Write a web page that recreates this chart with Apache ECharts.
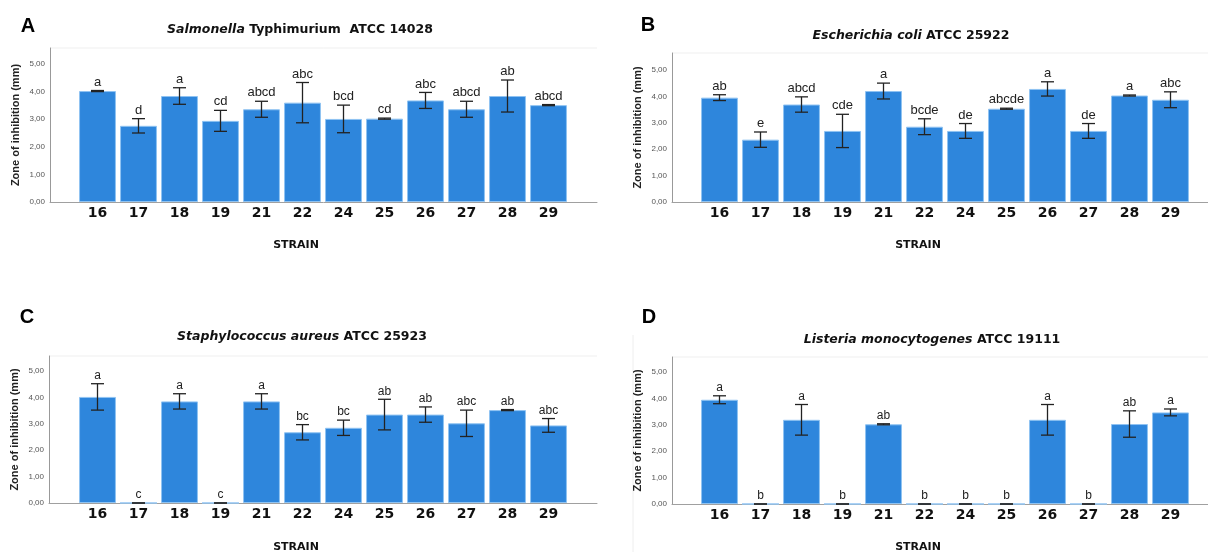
<!DOCTYPE html>
<html>
<head>
<meta charset="utf-8">
<script src="https://cdn.jsdelivr.net/npm/echarts@6/dist/echarts.min.js"></script>
<style>
  html, body { margin: 0; padding: 0; background: #fff; }
  #chart { width: 1208px; height: 552px; }
</style>
</head>
<body>
<div id="chart"></div>
<script>
// strains on the x axis (same for all four panels)
var strains = ['16', '17', '18', '19', '21', '22', '24', '25', '26', '27', '28', '29'];
var yTicks = [0, 1, 2, 3, 4, 5];

// A - Salmonella Typhimurium
var meanA = [4.02, 2.76, 3.84, 2.94, 3.36, 3.60, 3.01, 3.02, 3.68, 3.36, 3.84, 3.51];
var errA = [0.02, 0.26, 0.30, 0.38, 0.29, 0.73, 0.50, 0.02, 0.29, 0.29, 0.58, 0.02];
var lettersA = ['a', 'd', 'a', 'cd', 'abcd', 'abc', 'bcd', 'cd', 'abc', 'abcd', 'ab', 'abcd'];

// B - Escherichia coli
var meanB = [3.95, 2.36, 3.69, 2.69, 4.20, 2.85, 2.69, 3.53, 4.28, 2.69, 4.03, 3.87];
var errB = [0.11, 0.29, 0.29, 0.63, 0.30, 0.30, 0.28, 0.02, 0.27, 0.28, 0.02, 0.30];
var lettersB = ['ab', 'e', 'abcd', 'cde', 'a', 'bcde', 'de', 'abcde', 'a', 'de', 'a', 'abc'];

// C - Staphylococcus aureus
var meanC = [4.02, 0, 3.85, 0, 3.85, 2.68, 2.85, 3.35, 3.35, 3.02, 3.52, 2.94];
var errC = [0.50, 0, 0.29, 0, 0.29, 0.29, 0.29, 0.58, 0.29, 0.50, 0.02, 0.26];
var lettersC = ['a', 'c', 'a', 'c', 'a', 'bc', 'bc', 'ab', 'ab', 'abc', 'ab', 'abc'];

// D - Listeria monocytogenes
var meanD = [3.95, 0, 3.19, 0, 3.02, 0, 0, 0, 3.19, 0, 3.03, 3.47];
var errD = [0.15, 0, 0.58, 0, 0.02, 0, 0, 0, 0.58, 0, 0.50, 0.13];
var lettersD = ['a', 'b', 'a', 'b', 'ab', 'b', 'b', 'b', 'a', 'b', 'ab', 'a'];

var BAR = '#2e86dc';
var panels = [
    {mean: meanA, err: errA, letters: lettersA, font: 13,
     axis: {left: 50, right: 611, top: 48, bottom: 350}, bars: {left: 77, right: 639}, max: 5.58},
    {mean: meanB, err: errB, letters: lettersB, font: 13,
     axis: {left: 672, right: 0, top: 53, bottom: 350}, bars: {left: 699, right: 17}, max: 5.64},
    {mean: meanC, err: errC, letters: lettersC, font: 12,
     axis: {left: 49, right: 611, top: 356, bottom: 49}, bars: {left: 77, right: 639}, max: 5.57},
    {mean: meanD, err: errD, letters: lettersD, font: 12,
     axis: {left: 672, right: 0, top: 357, bottom: 48}, bars: {left: 699, right: 17}, max: 5.57}
];

var grids = [], xAxes = [], yAxes = [], series = [];

panels.forEach(function (p, k) {
    var ga = k * 2, gb = k * 2 + 1;
    grids.push(Object.assign({containLabel: false}, p.axis));
    grids.push({left: p.bars.left, right: p.bars.right, top: p.axis.top, bottom: p.axis.bottom});

    // frame grid: axis lines + y labels
    xAxes.push({
        gridIndex: ga, type: 'value', min: 0, max: 1,
        axisLine: {show: true, onZero: false, lineStyle: {color: '#a0a0a0', width: 1}},
        axisTick: {show: false}, axisLabel: {show: false}, splitLine: {show: false}
    });
    yAxes.push({
        gridIndex: ga, type: 'value', min: 0, max: p.max, interval: 1,
        name: 'Zone of inhibition (mm)', nameLocation: 'middle', nameGap: 29,
        nameTextStyle: {fontFamily: 'Liberation Sans', fontWeight: 'bold', fontSize: 11, color: '#222'},
        axisLine: {show: true, lineStyle: {color: '#999', width: 1}},
        axisTick: {show: false},
        axisLabel: {
            fontFamily: 'Liberation Sans', fontSize: 8, color: '#555', margin: 5,
            showMaxLabel: false,
            formatter: function (v) {
                return yTicks.indexOf(v) >= 0 ? v.toFixed(2).replace('.', ',') : '';
            }
        },
        splitLine: {show: false}
    });

    // bar grid: categories
    xAxes.push({
        gridIndex: gb, type: 'category', data: strains,
        axisLine: {show: false}, axisTick: {show: false},
        axisLabel: {fontFamily: 'DejaVu Sans', fontWeight: 'bold', fontSize: 14, color: '#111', margin: 4}
    });
    yAxes.push({
        gridIndex: gb, type: 'value', min: 0, max: p.max, show: false
    });

    series.push({
        type: 'bar', xAxisIndex: k * 2 + 1, yAxisIndex: k * 2 + 1,
        data: p.mean, barCategoryGap: '10%',
        itemStyle: {color: BAR, borderColor: '#8fc3f2', borderWidth: 1},
        silent: true
    });

    var errData = p.mean.map(function (m, i) {
        return [i, m - p.err[i], m + p.err[i]];
    });
    series.push({
        type: 'custom', xAxisIndex: k * 2 + 1, yAxisIndex: k * 2 + 1,
        data: errData, silent: true, z: 5,
        renderItem: function (params, api) {
            var x = api.coord([api.value(0), 0])[0];
            var lo = api.coord([api.value(0), api.value(1)])[1];
            var hi = api.coord([api.value(0), api.value(2)])[1];
            var w = 6.5;
            var st = {stroke: '#222', lineWidth: 1.3, fill: null};
            return {
                type: 'group',
                children: [
                    {type: 'line', shape: {x1: x, y1: lo, x2: x, y2: hi}, style: st},
                    {type: 'line', shape: {x1: x - w, y1: hi, x2: x + w, y2: hi}, style: st},
                    {type: 'line', shape: {x1: x - w, y1: lo, x2: x + w, y2: lo}, style: st},
                    {type: 'text', style: {
                        x: x, y: hi - 2, text: p.letters[params.dataIndex],
                        textAlign: 'center', textVerticalAlign: 'bottom',
                        fontFamily: 'Liberation Sans', fontSize: p.font, fill: '#222'
                    }}
                ]
            };
        }
    });
});

function label(x, y, text, size, rich) {
    return {
        type: 'text', x: x, y: y,
        style: {
            text: text, textAlign: 'center', textVerticalAlign: 'middle',
            fontFamily: 'DejaVu Sans', fontWeight: 'bold', fontSize: size, fill: '#111',
            rich: rich
        }
    };
}
var titleRich = {
    i: {fontFamily: 'DejaVu Sans', fontWeight: 'bold', fontStyle: 'italic', fontSize: 12.5, fill: '#111'},
    b: {fontFamily: 'DejaVu Sans', fontWeight: 'bold', fontSize: 12.5, fill: '#111'}
};
var letterFont = 'Liberation Sans';

var graphics = [
    {type: 'text', x: 28, y: 26, style: {text: 'A', textAlign: 'center', textVerticalAlign: 'middle', fontFamily: letterFont, fontWeight: 'bold', fontSize: 20, fill: '#000'}},
    {type: 'text', x: 648, y: 25, style: {text: 'B', textAlign: 'center', textVerticalAlign: 'middle', fontFamily: letterFont, fontWeight: 'bold', fontSize: 20, fill: '#000'}},
    {type: 'text', x: 27, y: 317, style: {text: 'C', textAlign: 'center', textVerticalAlign: 'middle', fontFamily: letterFont, fontWeight: 'bold', fontSize: 20, fill: '#000'}},
    {type: 'text', x: 649, y: 317, style: {text: 'D', textAlign: 'center', textVerticalAlign: 'middle', fontFamily: letterFont, fontWeight: 'bold', fontSize: 20, fill: '#000'}},
    label(300, 30, '{i|Salmonella} {b|Typhimurium  ATCC 14028}', 12.5, titleRich),
    label(911, 36, '{i|Escherichia coli} {b|ATCC 25922}', 12.5, titleRich),
    label(302, 337, '{i|Staphylococcus aureus} {b|ATCC 25923}', 12.5, titleRich),
    label(932, 340, '{i|Listeria monocytogenes} {b|ATCC 19111}', 12.5, titleRich),
    label(296, 245, 'STRAIN', 11),
    label(918, 245, 'STRAIN', 11),
    label(296, 547, 'STRAIN', 11),
    label(918, 547, 'STRAIN', 11),
    // faint plot frame tops
    {type: 'line', shape: {x1: 50, y1: 48, x2: 597, y2: 48}, style: {stroke: '#efefef', lineWidth: 1}},
    {type: 'line', shape: {x1: 672, y1: 53, x2: 1208, y2: 53}, style: {stroke: '#efefef', lineWidth: 1}},
    {type: 'line', shape: {x1: 49, y1: 356, x2: 597, y2: 356}, style: {stroke: '#efefef', lineWidth: 1}},
    {type: 'line', shape: {x1: 672, y1: 357, x2: 1208, y2: 357}, style: {stroke: '#efefef', lineWidth: 1}},
    {type: 'line', shape: {x1: 633, y1: 335, x2: 633, y2: 552}, style: {stroke: '#eeeeee', lineWidth: 1}}
];

var chart = echarts.init(document.getElementById('chart'), null, {renderer: 'canvas'});
chart.setOption({
    animation: false,
    backgroundColor: '#fff',
    grid: grids,
    xAxis: xAxes,
    yAxis: yAxes,
    series: series,
    graphic: graphics
});
</script>
</body>
</html>
